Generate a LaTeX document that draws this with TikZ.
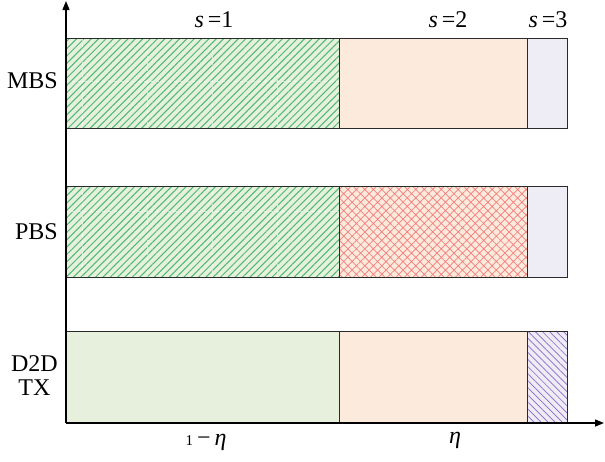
\documentclass[tikz,border=0pt]{standalone}
\usepackage{fontspec}
\setmainfont{Liberation Serif}
\usetikzlibrary{patterns.meta,arrows.meta}
\definecolor{gbg}{HTML}{E6F1DC}
\definecolor{gline}{HTML}{4DB874}
\definecolor{peach}{HTML}{FCEADC}
\definecolor{rline}{HTML}{F05050}
\definecolor{lav}{HTML}{EEECF4}
\definecolor{pline}{HTML}{9066CC}
\definecolor{plain}{HTML}{E7EFDD}
\definecolor{edge}{HTML}{2A2A2A}
\tikzset{
  greenhatch/.style={fill=gbg,postaction={pattern={Lines[angle=45,distance=5.2pt,line width=1.0pt]},pattern color=gline}},
  redhatch/.style={fill=peach,postaction={pattern={Hatch[angle=45,distance=6pt,line width=0.7pt]},pattern color=rline!75}},
  purplehatch/.style={fill=lav,postaction={pattern={Lines[angle=-45,distance=5pt,line width=0.7pt]},pattern color=pline}},
  box/.style={draw=edge,line width=1pt},
  grid/.style={draw=white,opacity=0.6,dashed,line width=0.6pt},
  lab/.style={font=\fontsize{24}{26}\selectfont,inner sep=0pt},
  axis/.style={line width=1.4pt,-{Triangle[length=9pt,width=7pt]}}
}
\begin{document}
\begin{tikzpicture}[x=1pt,y=-1pt]
\useasboundingbox (0,0) rectangle (605,461);
% MBS row
\path[greenhatch] (66,38) rectangle (339,128);
\foreach \gx in {82,147,212,277} \draw[grid] (\gx,38) -- (\gx,128);
\draw[grid] (66,81) -- (339,81);
\draw[box] (66,38) rectangle (339,128);
\path[fill=peach] (339,38) rectangle (527,128);
\draw[box] (339,38) rectangle (527,128);
\path[fill=lav] (527,38) rectangle (567,128);
\draw[box] (527,38) rectangle (567,128);
% PBS row
\path[greenhatch] (66,186) rectangle (339,277);
\foreach \gx in {82,147,212,277} \draw[grid] (\gx,186) -- (\gx,277);
\draw[grid] (66,211) -- (339,211);
\draw[box] (66,186) rectangle (339,277);
\path[redhatch] (339,186) rectangle (527,277);
\draw[box] (339,186) rectangle (527,277);
\path[fill=lav] (527,186) rectangle (567,277);
\draw[box] (527,186) rectangle (567,277);
% D2D row
\path[fill=plain] (66,331) rectangle (339,423);
\draw[box] (66,331) rectangle (339,423);
\path[fill=peach] (339,331) rectangle (527,423);
\draw[box] (339,331) rectangle (527,423);
\path[purplehatch] (527,331) rectangle (567,423);
\draw[box] (527,331) rectangle (567,423);
% axes
\coordinate (O) at (66,423);
\coordinate (ytip) at (66,1);
\coordinate (xtip) at (604,423);
\draw[axis] (O) -- (ytip);
\draw[axis] (O) -- (xtip);
% labels
\node[lab,anchor=east] (mbs) at (58,81) {MBS};
\node[lab,anchor=east] (pbs) at (58,232) {PBS};
\node[lab,anchor=east,align=center] (d2d) at (58,376) {D2D\\[-2pt]TX};
\node[lab] (s1) at (214,20) {\textit{s}\,=1};
\node[lab] (s2) at (448,20) {\textit{s}\,=2};
\node[lab] (s3) at (548,20) {\textit{s}\,=3};
\node[lab] (one) at (206,442) {{\fontsize{15}{16}\selectfont 1}\,−\,\textit{η}};
\node[lab] (eta) at (455,440) {\textit{η}};
\end{tikzpicture}
\end{document}
